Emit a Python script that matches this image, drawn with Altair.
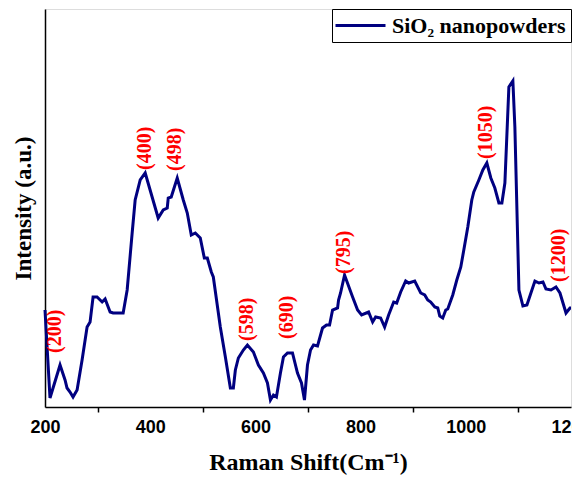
import altair as alt
import pandas as pd

# Raman spectrum (wavenumber, intensity in arbitrary units)
shift = [200, 209.5, 228.6, 238.1, 241.9, 247.6, 253.3, 261, 270.5, 280, 285.7, 291.4, 299,
         308.6, 314.3, 323.8, 329.5, 348.6, 356.2, 365.7, 371.4, 381, 390.5, 415.2, 424.8,
         432.4, 434.3, 440, 451.4, 462.9, 470.5, 478.1, 485.7, 495.2, 502.9, 508.6, 516.2,
         520, 533.3, 542.9, 552.4, 558.1, 561.9, 567.6, 577.1, 584.8, 596.2, 605.7, 615.2,
         622.9, 628.6, 634.3, 640, 647.6, 653.3, 661, 670.5, 680, 687.6, 693.3, 699, 704.8,
         710.5, 718.1, 727.6, 735.2, 741, 746.7, 756.2, 758.1, 761.9, 769.5, 784.8, 794.3,
         801.9, 815.2, 822.9, 828.6, 838.1, 845.7, 853.3, 862.9, 868.6, 876.2, 885.7, 891.4,
         902.9, 914.3, 921.9, 927.6, 933.3, 941, 946.7, 950.5, 956.2, 961.9, 965.7, 975.2,
         982.9, 990.5, 996.2, 1003.8, 1011.4, 1015.2, 1024.8, 1032.4, 1040, 1047.6, 1055.2,
         1062.9, 1068.6, 1074.3, 1081.9, 1089.5, 1093.3, 1101, 1108.6, 1116.2, 1123.8, 1131.4,
         1139, 1146.7, 1152.4, 1161.9, 1171.4, 1179, 1190.5, 1198.1, 1200]
intensity = [97, 9, 42, 27, 19, 15, 10, 17, 47, 80, 85, 110, 110,
             105, 108, 95, 94, 94, 117, 174, 207, 227, 234, 189, 197,
             199, 209, 210, 229, 207, 194, 172, 174, 169, 149, 149, 135,
             130, 80, 50, 19, 19, 37, 49, 57, 62, 55, 42, 34,
             24, 7, 12, 10, 34, 50, 54, 54, 34, 24, 7, 42, 57,
             62, 61, 79, 82, 82, 97, 99, 107, 114, 132, 110, 97,
             92, 95, 85, 90, 89, 80, 92, 105, 104, 115, 126, 124,
             126, 114, 112, 107, 105, 100, 99, 91, 89, 97, 98, 112,
             127, 140, 157, 180, 207, 215, 227, 237, 244, 229, 219,
             204, 204, 224, 320, 326, 280, 117, 101, 102, 114, 126,
             124, 125, 118, 117, 120, 114, 94, 99, 99]

# Peak annotations
peak_labels = ["(200)", "(400)", "(498)", "(598)", "(690)", "(795)", "(1050)", "(1200)"]
peak_x = [219, 390.5, 447.6, 584.8, 661, 767.6, 1038, 1177]
peak_y = [54, 237, 236, 66, 68, 133, 248, 125]

series_name = "SiO\u2082 nanopowders"

spec = pd.DataFrame({"shift": shift, "intensity": intensity, "series": series_name})
peaks = pd.DataFrame({"label": peak_labels, "x": peak_x, "y": peak_y})

x_scale = alt.Scale(domain=[200, 1200], nice=False)
y_scale = alt.Scale(domain=[0, 398], nice=False)

line = alt.Chart(spec).mark_line(strokeWidth=3).encode(
    x=alt.X("shift:Q", scale=x_scale,
            title="Raman Shift(Cm\u207b\u00b9)",
            axis=alt.Axis(values=list(range(200, 1201, 100)), format="d",
                          labelExpr="datum.value % 200 == 0 ? datum.label : ''",
                          tickOpacity={"condition": {"test": "datum.value % 200 == 0", "value": 0}, "value": 1},
                          grid=False, tickSize=5, tickColor="black", tickWidth=1.5,
                          domainColor="black", domainWidth=1.5, labelFlush=False,
                          labelFont="Liberation Sans", labelFontWeight="bold", labelFontSize=18,
                          labelColor="black", labelPadding=6,
                          titleFont="Liberation Serif", titleFontWeight="bold", titleFontSize=24,
                          titleColor="black", titlePadding=14)),
    y=alt.Y("intensity:Q", scale=y_scale, title="Intensity (a.u.)",
            axis=alt.Axis(labels=False, ticks=False, grid=False,
                          domainColor="black", domainWidth=1.5,
                          titleFont="Liberation Serif", titleFontWeight="bold", titleFontSize=23,
                          titleColor="black", titlePadding=10)),
    color=alt.Color("series:N", scale=alt.Scale(range=["#000080"]),
                    legend=alt.Legend(title=None, orient="top-right", offset=0,
                                      strokeColor="black", fillColor="white", padding=5,
                                      symbolType="M-2.5,0L2.5,0", symbolSize=400,
                                      symbolStrokeWidth=3, symbolOffset=12,
                                      labelFont="Liberation Serif", labelFontWeight="bold",
                                      labelFontSize=22, labelColor="black", labelOffset=20,
                                      labelLimit=0, cornerRadius=0)),
)

labels = alt.Chart(peaks).mark_text(
    angle=270, align="left", baseline="middle", color="red",
    font="Liberation Serif", fontWeight="bold", fontSize=20,
).encode(
    x=alt.X("x:Q", scale=x_scale),
    y=alt.Y("y:Q", scale=y_scale),
    text="label:N",
)

chart = alt.layer(line, labels).properties(
    width=526, height=398,
    autosize=alt.AutoSizeParams(type="none"),
    padding={"left": 37, "top": 1, "right": 1, "bottom": 76},
).configure_view(stroke="black", strokeWidth=1.5).configure(background="white")

chart.save("out.html", embed_options={"renderer": "svg", "actions": False})
